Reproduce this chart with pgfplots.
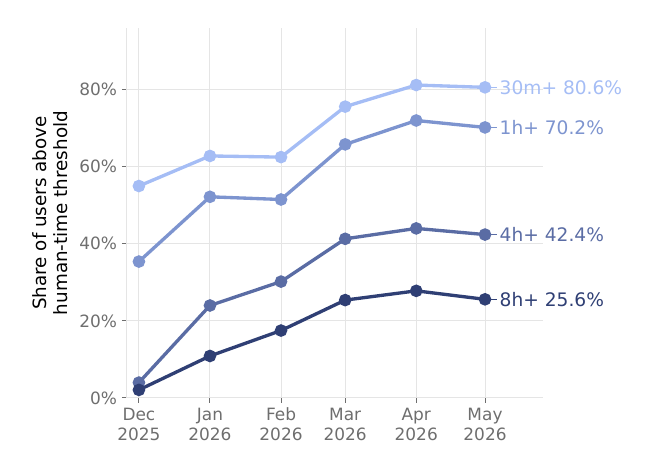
\documentclass[border=0pt]{standalone}
\usepackage{fontspec}
\setmainfont{DejaVu Sans}
\usepackage{pgfplots}
\pgfplotsset{compat=1.18}
\definecolor{cA}{RGB}{165,189,245}
\definecolor{cB}{RGB}{125,148,207}
\definecolor{cC}{RGB}{90,108,164}
\definecolor{cD}{RGB}{47,63,116}
\definecolor{gridc}{RGB}{229,229,229}
\definecolor{tickc}{RGB}{110,110,110}
\begin{document}
\begin{tikzpicture}
\begin{axis}[name=ax, scale only axis, width=299.52pt, height=266.4pt,
 xmin=-5.2, xmax=176.3, ymin=0, ymax=96,
 xtick={0,31,62,90,121,151},
 xticklabels={Dec\\2025, Jan\\2026, Feb\\2026, Mar\\2026, Apr\\2026, May\\2026},
 xticklabel style={align=center, text=tickc, font=\fontsize{12.2}{14.4}\selectfont},
 ytick={0,20,40,60,80}, yticklabels={0\%,20\%,40\%,60\%,80\%},
 yticklabel style={text=tickc, font=\fontsize{12.2}{14.4}\selectfont},
 /pgf/number format/assume math mode=true,
 grid=major, grid style={gridc, line width=0.72pt},
 axis x line*=bottom, axis y line*=left, axis line style={gridc, line width=0.72pt, -},
 tick style={tickc, line width=0.72pt}, tick align=outside, major tick length=3.6pt,
 clip=false,
 ylabel={Share of users above\\human-time threshold},
 ylabel style={align=center, font=\fontsize{13.2}{15.2}\selectfont, at={(axis description cs:-0.185,0.5)}, anchor=center},
]
\addplot[cA, line width=2.4pt, mark=*, mark size=3.3pt, mark options={solid, fill=cA, draw=cA}]
 coordinates {(0,55.0) (31,62.8) (62,62.5) (90,75.6) (121,81.2) (151,80.6)};
\addplot[cB, line width=2.4pt, mark=*, mark size=3.3pt, mark options={solid, fill=cB, draw=cB}]
 coordinates {(0,35.4) (31,52.2) (62,51.5) (90,65.8) (121,72.0) (151,70.2)};
\addplot[cC, line width=2.4pt, mark=*, mark size=3.3pt, mark options={solid, fill=cC, draw=cC}]
 coordinates {(0,4.0) (31,24.0) (62,30.2) (90,41.3) (121,44.0) (151,42.4)};
\addplot[cD, line width=2.4pt, mark=*, mark size=3.3pt, mark options={solid, fill=cD, draw=cD}]
 coordinates {(0,2.1) (31,10.9) (62,17.5) (90,25.4) (121,27.8) (151,25.6)};
\draw[cA, line width=1.1pt] (axis cs:151,80.6) -- (axis cs:156.3,80.6);
\draw[cB, line width=1.1pt] (axis cs:151,70.2) -- (axis cs:156.3,70.2);
\draw[cC, line width=1.1pt] (axis cs:151,42.4) -- (axis cs:156.3,42.4);
\draw[cD, line width=1.1pt] (axis cs:151,25.6) -- (axis cs:156.3,25.6);
\node[anchor=west, text=cA, inner sep=0pt, font=\fontsize{13.4}{15}\selectfont] at (axis cs:157.3,80.6) {30m+ 80.6\%};
\node[anchor=west, text=cB, inner sep=0pt, font=\fontsize{13.4}{15}\selectfont] at (axis cs:157.3,70.2) {1h+ 70.2\%};
\node[anchor=west, text=cC, inner sep=0pt, font=\fontsize{13.4}{15}\selectfont] at (axis cs:157.3,42.4) {4h+ 42.4\%};
\node[anchor=west, text=cD, inner sep=0pt, font=\fontsize{13.4}{15}\selectfont] at (axis cs:157.3,25.6) {8h+ 25.6\%};
\end{axis}
\pgfresetboundingbox
\path[use as bounding box] ([shift={(-91.44pt,-54.72pt)}]ax.south west) rectangle ([shift={(382.32pt,286.56pt)}]ax.south west);
\end{tikzpicture}
\end{document}
